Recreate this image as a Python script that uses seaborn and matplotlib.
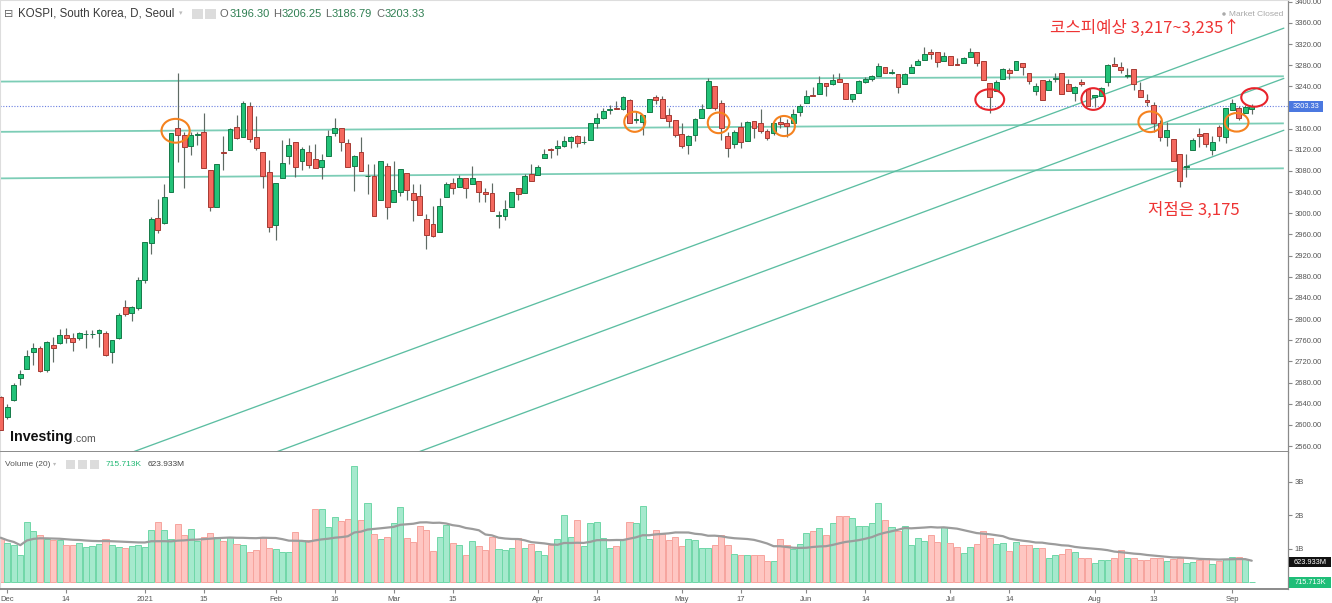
import numpy as np
import pandas as pd
import matplotlib
matplotlib.use("Agg")
import matplotlib.pyplot as plt
import seaborn as sns
from matplotlib.patches import Ellipse, Rectangle

# ---------------- data ----------------
holidays = ["2020-12-25", "2020-12-31", "2021-01-01", "2021-02-11", "2021-02-12",
            "2021-03-01", "2021-05-05", "2021-05-19", "2021-08-16"]

open_ = [
    # Nov30 + Dec
    2652, 2614, 2647, 2688, 2706, 2738, 2746, 2704, 2751, 2755, 2770, 2765, 2765, 2771, 2771, 2773, 2773, 2737, 2764, 2822, 2811, 2821,
    # Jan
    2874, 2943, 2992, 2981, 3040, 3162, 3148, 3127, 3148, 3153, 3081, 3012, 3115, 3120, 3164, 3144, 3203, 3144, 3115, 3079,
    # Feb
    2977, 3066, 3109, 3134, 3099, 3115, 3102, 3088, 3109, 3151, 3162, 3132, 3089, 3115, 3070, 3071, 3026, 3090,
    # Mar
    3022, 3041, 3077, 3038, 3032, 2989, 2980, 2965, 3031, 3057, 3049, 3067, 3055, 3062, 3040, 3038, 2995, 2995, 3012, 3047, 3038, 3074,
    # Apr
    3072, 3105, 3121, 3124, 3128, 3137, 3146, 3134, 3138, 3171, 3181, 3195, 3199, 3198, 3214, 3177, 3173, 3191, 3219, 3217, 3186, 3176,
    # May
    3149, 3130, 3148, 3180, 3200, 3241, 3209, 3147, 3131, 3163, 3136, 3175, 3171, 3156, 3152, 3172, 3170, 3171, 3192,
    # Jun
    3208, 3224, 3225, 3246, 3244, 3253, 3246, 3217, 3227, 3249, 3254, 3260, 3277, 3266, 3264, 3245, 3266, 3280, 3289, 3305, 3305, 3288,
    # Jul
    3297, 3282, 3285, 3296, 3304, 3288, 3246, 3232, 3254, 3271, 3270, 3284, 3265, 3232, 3252, 3234, 3254, 3266, 3244, 3228, 3249, 3235,
    # Aug
    3220, 3221, 3249, 3283, 3277, 3260, 3272, 3234, 3214, 3205, 3170, 3144, 3140, 3112, 3087, 3119, 3149, 3152, 3119, 3164, 3144,
    # Sep
    3195, 3199, 3190, 3196.30,
]
high = [
    2655, 2640, 2679, 2703, 2742, 2754, 2750, 2758, 2767, 2781, 2784, 2773, 2776, 2779, 2780, 2782, 2778, 2760, 2811, 2837, 2824, 2880,
    2946, 2993, 3027, 3056, 3152, 3266, 3154, 3154, 3153, 3190, 3081, 3094, 3146, 3162, 3186, 3213, 3210, 3184, 3115, 3100,
    3058, 3139, 3143, 3134, 3126, 3129, 3131, 3112, 3157, 3181, 3162, 3140, 3111, 3144, 3094, 3094, 3099, 3096,
    3099, 3083, 3077, 3056, 3056, 2999, 3013, 3028, 3060, 3066, 3073, 3067, 3090, 3062, 3047, 3058, 3005, 3025, 3041, 3047, 3075, 3094,
    3091, 3122, 3123, 3138, 3146, 3146, 3148, 3147, 3170, 3189, 3200, 3204, 3213, 3221, 3216, 3194, 3185, 3217, 3223, 3221, 3200, 3176,
    3170, 3148, 3180, 3206, 3256, 3241, 3214, 3153, 3158, 3172, 3174, 3175, 3198, 3159, 3172, 3183, 3179, 3198, 3207,
    3233, 3239, 3259, 3246, 3264, 3265, 3246, 3225, 3252, 3257, 3262, 3284, 3277, 3273, 3264, 3265, 3282, 3291, 3314, 3311, 3305, 3305,
    3297, 3294, 3296, 3313, 3304, 3288, 3246, 3252, 3274, 3274, 3288, 3285, 3266, 3247, 3252, 3253, 3265, 3266, 3253, 3240, 3253, 3235,
    3223, 3238, 3283, 3296, 3286, 3275, 3272, 3248, 3226, 3211, 3176, 3173, 3140, 3112, 3113, 3142, 3162, 3152, 3146, 3167, 3200,
    3216, 3203, 3205, 3206.25,
]
low = [
    2590, 2612, 2645, 2675, 2706, 2713, 2700, 2700, 2718, 2752, 2755, 2739, 2760, 2745, 2764, 2748, 2730, 2717, 2763, 2805, 2797, 2818,
    2869, 2924, 2962, 2979, 3040, 3097, 3047, 3110, 3130, 3085, 3005, 3012, 3082, 3120, 3140, 3144, 3134, 3120, 3047, 2964,
    2949, 3066, 3094, 3069, 3081, 3085, 3085, 3065, 3109, 3146, 3117, 3087, 3042, 3080, 3036, 2995, 3026, 2989,
    3022, 3032, 3025, 2985, 2997, 2932, 2955, 2965, 3031, 3037, 3049, 3028, 3055, 3022, 3021, 3004, 2973, 2987, 3012, 3025, 3038, 3061,
    3072, 3105, 3104, 3111, 3126, 3124, 3126, 3131, 3138, 3162, 3179, 3188, 3197, 3196, 3171, 3170, 3148, 3191, 3207, 3180, 3164, 3145,
    3123, 3113, 3136, 3180, 3200, 3195, 3139, 3106, 3123, 3123, 3136, 3142, 3151, 3139, 3148, 3161, 3145, 3171, 3183,
    3208, 3221, 3225, 3221, 3242, 3248, 3216, 3211, 3227, 3246, 3250, 3260, 3265, 3264, 3227, 3245, 3266, 3280, 3289, 3292, 3277, 3288,
    3281, 3280, 3285, 3296, 3279, 3252, 3190, 3232, 3254, 3254, 3270, 3261, 3245, 3223, 3215, 3234, 3249, 3225, 3232, 3212, 3241, 3203,
    3201, 3221, 3240, 3278, 3265, 3255, 3234, 3220, 3202, 3154, 3136, 3127, 3098, 3050, 3068, 3119, 3126, 3125, 3111, 3136, 3133,
    3195, 3176, 3189, 3186.79,
]
close = [
    2591, 2634, 2675, 2696, 2731, 2745, 2702, 2757, 2746, 2770, 2764, 2757, 2773, 2772, 2772, 2779, 2733, 2760, 2808, 2809, 2822, 2874,
    2945, 2990, 2968, 3031, 3151, 3148, 3126, 3148, 3150, 3085, 3012, 3093, 3114, 3160, 3142, 3209, 3140, 3123, 3070, 2975,
    3058, 3096, 3130, 3088, 3121, 3091, 3085, 3101, 3147, 3162, 3134, 3087, 3108, 3080, 3071, 2995, 3099, 3012,
    3044, 3083, 3044, 3026, 2997, 2959, 2958, 3014, 3056, 3047, 3066, 3047, 3066, 3040, 3036, 3004, 2996, 3008, 3041, 3036, 3071, 3061,
    3087, 3113, 3120, 3128, 3137, 3144, 3132, 3135, 3170, 3181, 3193, 3198, 3198, 3220, 3171, 3178, 3185, 3217, 3215, 3181, 3174, 3148,
    3128, 3147, 3178, 3197, 3250, 3200, 3162, 3123, 3153, 3134, 3173, 3162, 3156, 3143, 3170, 3168, 3165, 3188, 3202,
    3221, 3222, 3247, 3241, 3252, 3249, 3216, 3225, 3250, 3254, 3260, 3279, 3265, 3267, 3239, 3264, 3277, 3287, 3302, 3302, 3286, 3297,
    3281, 3281, 3293, 3305, 3285, 3252, 3220, 3248, 3272, 3265, 3287, 3277, 3251, 3241, 3215, 3250, 3255, 3225, 3232, 3238, 3244, 3203,
    3223, 3237, 3280, 3278, 3271, 3261, 3244, 3220, 3211, 3171, 3145, 3158, 3098, 3061, 3090, 3139, 3147, 3131, 3135, 3146, 3200,
    3208, 3180, 3201, 3203.33,
]
volume_b = [
    1.33, 1.18, 1.10, 0.82, 1.81, 1.53, 1.42, 1.30, 1.25, 1.25, 1.12, 1.11, 1.18, 1.04, 1.07, 1.15, 1.28, 1.12, 1.05, 1.02, 1.07, 1.10,
    1.06, 1.56, 1.81, 1.57, 1.30, 1.74, 1.42, 1.59, 1.24, 1.36, 1.48, 1.36, 1.22, 1.36, 1.13, 1.10, 0.89, 0.95, 1.35, 1.01,
    0.98, 0.89, 0.91, 1.49, 1.26, 1.26, 2.18, 2.18, 1.64, 1.96, 1.83, 1.88, 3.48, 1.86, 2.37, 1.45, 1.30, 1.36,
    1.77, 2.26, 1.31, 1.20, 1.69, 1.56, 0.92, 1.36, 1.71, 1.18, 1.12, 0.82, 1.24, 1.09, 0.95, 1.34, 1.00, 0.95, 1.03, 1.31, 1.03, 1.15,
    0.94, 0.81, 1.11, 1.30, 2.01, 1.36, 1.86, 1.07, 1.77, 1.81, 1.32, 1.01, 1.07, 1.30, 1.81, 1.77, 2.27, 1.30, 1.56, 1.44, 1.25, 1.36,
    1.07, 1.30, 1.26, 1.01, 1.03, 1.11, 1.42, 1.11, 0.85, 0.80, 0.80, 0.80, 0.81, 0.62, 0.64, 1.28, 1.11, 0.98, 1.13,
    1.48, 1.53, 1.61, 1.41, 1.77, 1.97, 1.97, 1.91, 1.67, 1.69, 1.77, 2.37, 1.87, 1.66, 1.54, 1.67, 1.10, 1.33, 1.22, 1.42, 1.21, 1.65,
    1.18, 1.04, 0.88, 1.04, 1.15, 1.53, 1.33, 1.15, 1.18, 0.92, 1.19, 1.10, 1.11, 1.01, 1.01, 0.73, 0.82, 0.85, 1.00, 0.89, 0.73, 0.72,
    0.57, 0.67, 0.65, 0.71, 0.96, 0.73, 0.73, 0.65, 0.66, 0.73, 0.71, 0.64, 0.68, 0.71, 0.58, 0.61, 0.65, 0.73, 0.56, 0.62, 0.68,
    0.76, 0.76, 0.68, 0.000715713,
]

date_tick_days = ["2020-12-01", "2020-12-14", "2021-01-04", "2021-01-15", "2021-02-01", "2021-02-16",
                  "2021-03-02", "2021-03-15", "2021-04-01", "2021-04-14", "2021-05-03", "2021-05-17",
                  "2021-06-01", "2021-06-14", "2021-07-01", "2021-07-14", "2021-08-02", "2021-08-13",
                  "2021-09-01"]
date_tick_labels = ["Dec", "14", "2021", "15", "Feb", "16", "Mar", "15", "Apr", "14", "May", "17",
                    "Jun", "14", "Jul", "14", "Aug", "13", "Sep"]
price_ticks = list(range(2560, 3401, 40))
last_price = 3203.33

# trend lines: (start index, start price, end index, end price)
flat_lines = [(-0.1, 3249, 195.9, 3259), (-0.1, 3154, 195.9, 3170), (-0.1, 3066, 195.9, 3085)]
diag_lines = [(20.0, 2548, 195.9, 3350), (41.9, 2548, 195.9, 3255), (63.6, 2548, 195.9, 3157)]
# ellipses: (index, price, width in bars, height in points)
orange_marks = [(26.7, 3156, 4.3, 45), (96.8, 3173, 3.2, 38), (109.6, 3171, 3.3, 39),
                (119.6, 3165, 3.3, 38), (175.5, 3173, 3.6, 39), (188.7, 3172, 3.6, 35)]
red_marks = [(151.0, 3215, 4.4, 39), (166.8, 3216, 3.6, 41), (191.4, 3219, 4.0, 35)]

# ---------------- frame ----------------
dates = pd.bdate_range("2020-11-30", "2021-09-06")
dates = dates[~dates.isin(pd.to_datetime(holidays))]
df = pd.DataFrame({"date": dates, "open": open_, "high": high, "low": low,
                   "close": close, "volume": volume_b})
df["i"] = np.arange(len(df))
df["up"] = df["close"] > df["open"]
df["ma"] = df["volume"].rolling(20, min_periods=1).mean()

sns.set_theme(style="white")
plt.rcParams["font.family"] = ["Liberation Sans", "DejaVu Sans", "Noto Sans CJK KR"]

W, H = 1332, 603
fig = plt.figure(figsize=(W / 100, H / 100), dpi=100)


def fx(x):
    return x / W


def fy(y):
    return 1 - y / H


ax1 = fig.add_axes([0, fy(452.3), fx(1288), 452.3 / H])
ax2 = fig.add_axes([0, fy(589.3), fx(1288), 137 / H], sharex=ax1)
for ax in (ax1, ax2):
    ax.set_facecolor("white")

x0 = -0.7 / 6.55
x1 = (1288 - 0.7) / 6.55
ax1.set_xlim(x0, x1)
ax1.set_ylim(3400 - (452.3 - 1.7) / 0.529, 3400 + 1.7 / 0.529)
ax2.set_ylim(-0.21, 3.88)

# trend lines
for (a, pa, b, pb) in flat_lines:
    ax1.plot([a, b], [pa, pb], color="#7ccdb6", lw=1.3, zorder=1, solid_capstyle="butt")
for (a, pa, b, pb) in diag_lines:
    ax1.plot([a, b], [pa, pb], color="#5cbea2", lw=0.95, zorder=1)

# last price dotted line
ax1.axhline(last_price, color="#6a7fe0", lw=0.8, ls=(0, (1, 1.5)), zorder=1)

# candles
up_fill, up_edge = "#22c278", "#157a48"
dn_fill, dn_edge = "#f4685e", "#a63a33"
fills = np.where(df["up"], up_fill, dn_fill)
edges = np.where(df["up"], up_edge, dn_edge)
ax1.vlines(df["i"], df["low"], df["high"], colors="#5f6b64", lw=0.85, zorder=2)
body_bottom = np.minimum(df["open"], df["close"])
body_h = np.maximum(np.abs(df["close"] - df["open"]), 1.2)
ax1.bar(df["i"], body_h, bottom=body_bottom, width=0.74, color=fills, edgecolor=edges,
        linewidth=0.7, zorder=3)

# ellipses
for (cx, cy, w, h) in orange_marks:
    ax1.add_patch(Ellipse((cx, cy), w, h, fill=False, edgecolor="#f5821f", lw=1.5, zorder=5))
for (cx, cy, w, h) in red_marks:
    ax1.add_patch(Ellipse((cx, cy), w, h, fill=False, edgecolor="#e8232b", lw=1.5, zorder=5))

# volume
vfill = np.where(df["up"], "#a5e9cd", "#fec6c2")
vedge = np.where(df["up"], "#6fd7a8", "#f6a49d")
ax2.bar(df["i"], df["volume"], width=0.92, color=vfill, edgecolor=vedge, linewidth=0.7, zorder=2)
sns.lineplot(x=df["i"], y=df["ma"], ax=ax2, color="#9c9c9c", lw=1.6, zorder=3)
ax2.set_xlabel("")
ax2.set_ylabel("")

# axes styling (the 3200 label sits under the last-price box, as in the source)
ax1.yaxis.tick_right()
ax1.set_yticks(price_ticks)
ax1.set_yticklabels(["" if v == 3200 else f"{v:.2f}" for v in price_ticks])
ax1.tick_params(axis="y", which="both", right=True, left=False, length=3, width=0.8,
                color="#888888", labelsize=5.5, labelcolor="#555555", pad=2)
ax1.tick_params(axis="x", bottom=False, labelbottom=False)

ax2.yaxis.tick_right()
ax2.set_yticks([1, 2, 3])
ax2.set_yticklabels(["1B", "2B", "3B"])
ax2.tick_params(axis="y", right=True, left=False, length=3, width=0.8, color="#888888",
                labelsize=5.5, labelcolor="#555555", pad=2)
tick_pos = [df.index[df["date"] == pd.Timestamp(d)][0] for d in date_tick_days]
ax2.set_xticks(tick_pos)
ax2.set_xticklabels(date_tick_labels)
ax2.tick_params(axis="x", bottom=True, length=3, width=0.8, color="#888888",
                labelsize=5.5, labelcolor="#555555", pad=2)

for ax in (ax1, ax2):
    ax.grid(False)
    for s in ("left", "top"):
        ax.spines[s].set_color("#dddddd")
        ax.spines[s].set_linewidth(0.8)
    ax.spines["right"].set_color("#8a8a8a")
    ax.spines["right"].set_linewidth(0.9)
    ax.spines["bottom"].set_color("#8a8a8a")
    ax.spines["bottom"].set_linewidth(1.4)
ax2.spines["top"].set_visible(False)


# ---------------- overlays ----------------
def box(xa, ya, xb, yb, fc, text, tc, fs):
    fig.add_artist(Rectangle((fx(xa), fy(yb)), fx(xb) - fx(xa), fy(ya) - fy(yb),
                             transform=fig.transFigure, facecolor=fc, edgecolor="none"))
    fig.text(fx((xa + xb) / 2), fy((ya + yb) / 2), text, ha="center", va="center",
             color=tc, fontsize=fs)


box(1289, 101, 1323, 112, "#4b78e0", "3203.33", "white", 5.3)
box(1289, 557, 1331, 567, "#111111", "623.933M", "white", 5.3)
box(1289, 576.5, 1331, 587.5, "#1fbe78", "715.713K", "white", 5.3)

# header
fig.text(fx(4), fy(14), "\u229f", fontsize=8, color="#666666", va="center",
         family=["DejaVu Sans"])
fig.text(fx(18), fy(14), "KOSPI, South Korea, D, Seoul", fontsize=8.3, color="#3a3a3a",
         va="center")
fig.text(fx(179), fy(13), "\u25be", fontsize=5, color="#bbbbbb", va="center",
         family=["DejaVu Sans"])
for xa in (192, 205):
    fig.add_artist(Rectangle((fx(xa), fy(19)), fx(11), 10 / H, transform=fig.transFigure,
                             facecolor="#dcdcdc", edgecolor="none"))

renderer = fig.canvas.get_renderer()
ohlc = [("O", "3196.30", 220), ("H", "3206.25", 273), ("L", "3186.79", 325), ("C", "3203.33", 376)]
for lab, val, xa in ohlc:
    t = fig.text(fx(xa), fy(14), lab, fontsize=8, color="#666666", va="center")
    x_end = t.get_window_extent(renderer).x1
    fig.text(x_end / W + 0.6 / W, fy(14), val, fontsize=8, color="#2f7f52", va="center")

fig.text(fx(1283), fy(14), "Market Closed", fontsize=6, color="#a8a8a8", va="center", ha="right")
fig.add_artist(Ellipse((fx(1224), fy(14)), fx(3.5), 3.5 / H, transform=fig.transFigure,
                       facecolor="#aaaaaa", edgecolor="none"))

# volume header
fig.text(fx(5), fy(464), "Volume (20)", fontsize=6, color="#555555", va="center")
fig.text(fx(53), fy(464), "\u25be", fontsize=4.5, color="#bbbbbb", va="center",
         family=["DejaVu Sans"])
for xa in (66, 78, 90):
    fig.add_artist(Rectangle((fx(xa), fy(468.5)), fx(9), 9 / H, transform=fig.transFigure,
                             facecolor="#dcdcdc", edgecolor="none"))
fig.text(fx(106), fy(464), "715.713K", fontsize=6, color="#22b874", va="center")
fig.text(fx(148), fy(464), "623.933M", fontsize=6, color="#444444", va="center")

# logo
fig.text(fx(10), fy(437), "Investing", fontsize=10.3, fontweight="bold", color="#111111",
         va="center")
fig.text(fx(73), fy(438.5), ".com", fontsize=7.6, color="#555555", va="center")

# annotations
kfont = ["Noto Sans CJK KR", "DejaVu Sans"]
fig.text(fx(1050), fy(28), "코스피예상 3,217~3,235↑", fontsize=12, color="#ee3434",
         va="center", family=kfont)
fig.text(fx(1148), fy(210), "저점은 3,175", fontsize=12, color="#ee3434",
         va="center", family=kfont)

fig.savefig("out.png", dpi=100)
